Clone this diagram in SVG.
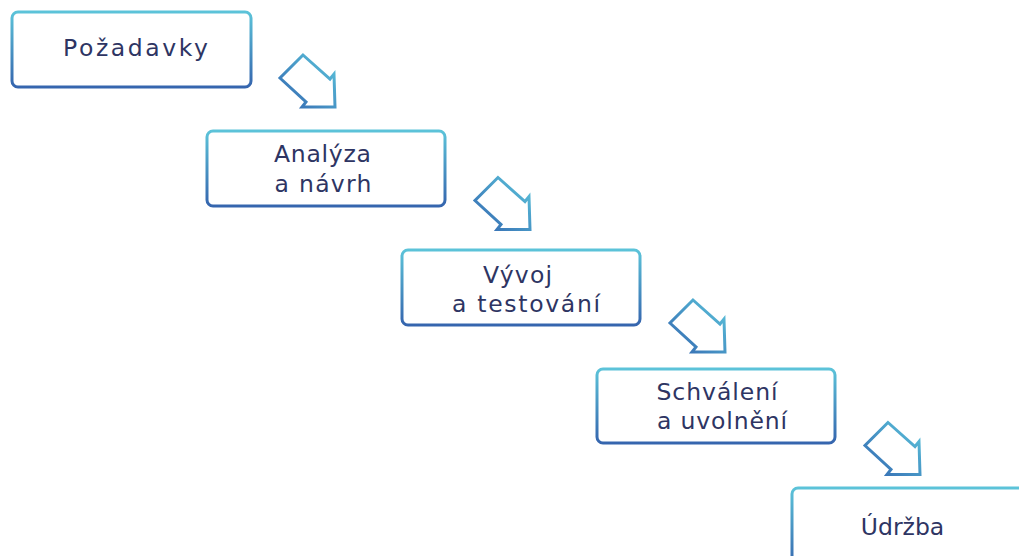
<svg xmlns="http://www.w3.org/2000/svg" xmlns:xlink="http://www.w3.org/1999/xlink" width="1019" height="556" viewBox="0 0 1019 556">
<defs>
<linearGradient id="boxGrad" x1="0" y1="0" x2="0" y2="1">
<stop offset="0" stop-color="#5cc3d9"/>
<stop offset="1" stop-color="#3565ae"/>
</linearGradient>
<linearGradient id="arrGrad" x1="1" y1="0" x2="0" y2="1">
<stop offset="0" stop-color="#5cc6dc"/>
<stop offset="1" stop-color="#3366b0"/>
</linearGradient>
<polygon id="arrow" points="23,0 50,24 54,19 55,52 22,52 26,47 0,23"/>
</defs>
<style>
.box{fill:#ffffff;stroke:url(#boxGrad);stroke-width:3}
.arr{fill:none;stroke:url(#arrGrad);stroke-width:3;stroke-linejoin:miter}
.lbl{font-family:"DejaVu Sans","Open Sans",sans-serif;font-size:23.5px;fill:#2e3563;text-anchor:middle}
</style>
<rect width="1019" height="556" fill="#ffffff"/>
<g id="connectors">
<use xlink:href="#arrow" class="arr" transform="translate(280,55)"/>
<use xlink:href="#arrow" class="arr" transform="translate(475,177.5)"/>
<use xlink:href="#arrow" class="arr" transform="translate(670,300)"/>
<use xlink:href="#arrow" class="arr" transform="translate(865,422.5)"/>
</g>
<g id="n1">
<rect class="box" x="12" y="12" width="239" height="75" rx="6"/>
<text class="lbl" x="135.5" y="56" textLength="145" lengthAdjust="spacing">Požadavky</text>
</g>
<g id="n2">
<rect class="box" x="207" y="131" width="238" height="75" rx="6"/>
<text class="lbl" x="322.5" y="162" textLength="97" lengthAdjust="spacing">Analýza</text>
<text class="lbl" x="323" y="192" textLength="97" lengthAdjust="spacing">a návrh</text>
</g>
<g id="n3">
<rect class="box" x="402" y="250" width="238" height="75" rx="6"/>
<text class="lbl" x="517.5" y="283" textLength="69" lengthAdjust="spacing">Vývoj</text>
<text class="lbl" x="526" y="312" textLength="148" lengthAdjust="spacing">a testování</text>
</g>
<g id="n4">
<rect class="box" x="597" y="369" width="238" height="74" rx="6"/>
<text class="lbl" x="717" y="400" textLength="121" lengthAdjust="spacing">Schválení</text>
<text class="lbl" x="722" y="429" textLength="130" lengthAdjust="spacing">a uvolnění</text>
</g>
<g id="n5">
<rect class="box" x="792" y="488" width="240" height="80" rx="6"/>
<text class="lbl" x="902.5" y="535">Údržba</text>
</g>
</svg>
